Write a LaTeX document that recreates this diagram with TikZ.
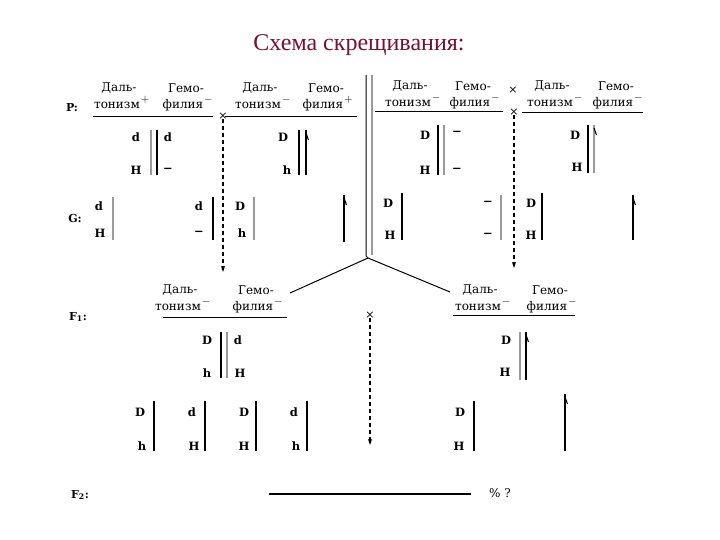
\documentclass[tikz,border=0pt]{standalone}
\usepackage{fontspec}
\setmainfont{DejaVu Serif}
\newfontfamily\titlefont{Liberation Serif}
\usetikzlibrary{arrows.meta}
\definecolor{titlered}{HTML}{7A1030}
\definecolor{chgray}{HTML}{9A9A9A}
\tikzset{
 lbl/.style={inner sep=0pt, font=\fontsize{12}{13}\selectfont},
 rowl/.style={inner sep=0pt, font=\fontsize{11}{12}\selectfont\bfseries},
 gen/.style={inner sep=0pt, font=\fontsize{11.5}{12}\selectfont\bfseries},
 sgn/.style={inner sep=0pt, font=\fontsize{15}{15}\selectfont},
 blk/.style={line width=1.1pt, black},
 gry/.style={line width=1.6pt, chgray},
 uline/.style={line width=1pt},
 dashar/.style={line width=1.3pt, dash pattern=on 4pt off 3pt, -{Stealth[length=6pt,width=4pt]}},
 cross/.style={inner sep=0pt, font=\fontsize{11}{11}\selectfont},
}
\newcommand{\hdr}[6]{%
 \node[lbl] (#1a) at (#2+2,#4-17) {Даль-};
 \node[lbl] (#1b) at (#2,#4) {тонизм};
 \node[sgn, anchor=west] (#1c) at ([xshift=0.5pt,yshift=5pt]#1b.east) {$\scriptstyle #5$};
 \node[lbl] (#1d) at (#3+3,#4-17) {Гемо-};
 \node[lbl] (#1e) at (#3,#4) {филия};
 \node[sgn, anchor=west] (#1f) at ([xshift=0.5pt,yshift=5pt]#1e.east) {$\scriptstyle #6$};
}
\newcommand{\hook}[2]{\draw[blk] (#1,#2+3) -- (#1+2.5,#2+10);}
\begin{document}
\begin{tikzpicture}[x=1pt,y=-1pt]
\useasboundingbox[fill=white] (0,0) rectangle (720,540);
\node[font=\titlefont\fontsize{24}{28}\selectfont, text=titlered, inner sep=0pt] (title) at (359,45) {Схема скрещивания:};

% row labels
\node[rowl] (lP) at (72,108) {P:};
\node[rowl] (lG) at (75,218) {G:};
\node[rowl] (lF1) at (78,317) {F\textsubscript{1}:};
\node[rowl] (lF2) at (80,495) {F\textsubscript{2}:};

% headers
\hdr{pa}{117}{183}{105}{+}{-}
\draw[uline] (93,117) -- (213,117);
\hdr{pb}{258}{323}{105}{-}{+}
\draw[uline] (225,117) -- (357,117);
\hdr{pc}{408}{470}{103}{-}{-}
\draw[uline] (375,112) -- (503,112);
\hdr{pd}{550}{613}{103}{-}{-}
\draw[uline] (522,113) -- (643,113);
\hdr{fa}{178}{253}{307}{-}{-}
\draw[uline] (163,317) -- (287,317);
\hdr{fb}{478}{547}{307}{-}{-}
\draw[uline] (453,315) -- (575,315);

% crosses and dashed arrows
\node[cross] (xl) at (223,116) {×};
\node[cross] (xr1) at (513,90) {×};
\node[cross] (xr2) at (514,112) {×};
\node[cross] (xm) at (370,315) {×};
\coordinate (al) at (223,272);
\coordinate (ar) at (514,268);
\coordinate (am) at (370,445);
\draw[dashar] (xl) -- (al);
\draw[dashar] (xr2) -- (ar);
\draw[dashar] (xm) -- (am);

% central divider and branches
\coordinate (ctop) at (366,75);
\coordinate (apex) at (368,258);
\coordinate (bl) at (290,293);
\coordinate (br) at (450,292);
\draw[line width=1pt] (ctop) -- (366,256) -- (apex);
\draw[gry] (372,75) -- (372,255);
\draw[line width=1pt] (bl) -- (apex) -- (br);

% P left genotypes
\node[gen] (g1) at (136,137) {d};
\node[gen] (g2) at (136,170) {H};
\draw[gry] (151,130) -- (151,175);
\draw[blk] (157,130) -- (157,175);
\node[gen] (g3) at (168,137) {d};
\node[gen] (g4) at (168,170) {−};
\node[gen] (g5) at (283,137) {D};
\node[gen] (g6) at (287,170) {h};
\draw[blk] (299,130) -- (299,175);
\draw[blk] (306,130) -- (306,175); \hook{306}{130}

% G left
\node[gen] (g7) at (99,206) {d};
\node[gen] (g8) at (100,233) {H};
\draw[gry] (113,197) -- (113,240);
\node[gen] (g9) at (199,206) {d};
\node[gen] (g10) at (199,233) {−};
\draw[blk] (213,197) -- (213,240);
\node[gen] (g11) at (240,206) {D};
\node[gen] (g12) at (242,233) {h};
\draw[gry] (254,197) -- (254,240);
\draw[blk] (344,195) -- (344,242); \hook{344}{195}

% P right genotypes
\node[gen] (g13) at (425,135) {D};
\node[gen] (g14) at (425,170) {H};
\draw[blk] (438,125) -- (438,175);
\draw[gry] (444,125) -- (444,175);
\node[gen] (g15) at (457,133) {−};
\node[gen] (g16) at (457,170) {−};
\node[gen] (g17) at (575,135) {D};
\node[gen] (g18) at (577,167) {H};
\draw[blk] (588,125) -- (588,173);
\draw[gry] (594,125) -- (594,173); \hook{594}{125}

% G right
\node[gen] (g19) at (388,203) {D};
\node[gen] (g20) at (390,235) {H};
\draw[blk] (402,193) -- (402,240);
\node[gen] (g21) at (488,203) {−};
\node[gen] (g22) at (488,235) {−};
\draw[gry] (501,195) -- (501,240);
\node[gen] (g23) at (531,203) {D};
\node[gen] (g24) at (531,235) {H};
\draw[blk] (542,193) -- (542,240);
\draw[blk] (633,195) -- (633,240); \hook{633}{195}

% F1
\node[gen] (g25) at (207,340) {D};
\node[gen] (g26) at (207,373) {h};
\draw[blk] (221,332) -- (221,378);
\draw[gry] (227,332) -- (227,378);
\node[gen] (g27) at (238,340) {d};
\node[gen] (g28) at (240,373) {H};
\node[gen] (g29) at (506,340) {D};
\node[gen] (g30) at (505,372) {H};
\draw[gry] (520,332) -- (520,380);
\draw[blk] (526,332) -- (526,380); \hook{526}{332}

% F1 gametes
\node[gen] (g31) at (140,412) {D};
\node[gen] (g32) at (142,446) {h};
\draw[blk] (154,401) -- (154,451);
\node[gen] (g33) at (192,412) {d};
\node[gen] (g34) at (194,446) {H};
\draw[blk] (205,401) -- (205,451);
\node[gen] (g35) at (244,412) {D};
\node[gen] (g36) at (244,446) {H};
\draw[line width=1.6pt] (256,401) -- (256,451);
\node[gen] (g37) at (294,412) {d};
\node[gen] (g38) at (296,446) {h};
\draw[blk] (307,401) -- (307,451);
\node[gen] (g39) at (460,412) {D};
\node[gen] (g40) at (459,446) {H};
\draw[blk] (474,401) -- (474,451);
\draw[blk] (565,394) -- (565,451); \hook{565}{394}

% F2
\draw[line width=1.2pt] (269,494) -- (471,494);
\node[lbl] (pct) at (500,493) {\% ?};
\end{tikzpicture}
\end{document}
